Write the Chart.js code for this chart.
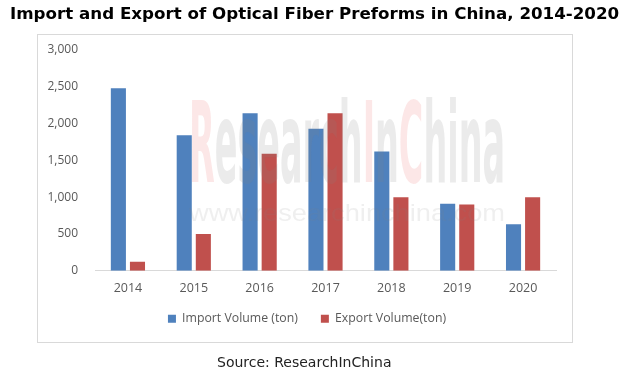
<!DOCTYPE html>
<html>
<head>
<meta charset="utf-8">
<script src="https://cdn.jsdelivr.net/npm/chart.js@4/dist/chart.umd.min.js"></script>
<style>
  html, body { margin: 0; padding: 0; background: #fff; }
  #wrap { width: 632px; height: 385px; position: relative; }
</style>
</head>
<body>
<div id="wrap"><canvas id="fiberChart"></canvas></div>
<script>
// Data
const years = ['2014', '2015', '2016', '2017', '2018', '2019', '2020'];
const importVolume = [2480, 1840, 2140, 1930, 1620, 910, 630];
const exportVolume = [120, 500, 1590, 2140, 1000, 900, 1000];
const yTicks = [0, 500, 1000, 1500, 2000, 2500, 3000];

const titleText = 'Import and Export of Optical Fiber Preforms in China, 2014-2020';
const sourceText = 'Source: ResearchInChina';

// Frame, title, source line and watermark
const decorations = {
    id: 'decorations',
    afterLayout(chart) {
        // x labels are clipped to the scale box, let them run into the legend gap
        const xs = chart.scales.x;
        xs.bottom = xs.top + 40;
        // legend sits a bit right of the plot centre in the original
        chart.legend.left += 9;
        chart.legend.right += 9;
    },
    beforeDraw(chart) {
        const ctx = chart.ctx;
        ctx.save();
        ctx.fillStyle = '#fff';
        ctx.fillRect(0, 0, chart.width, chart.height);
        ctx.strokeStyle = '#d9d9d9';
        ctx.lineWidth = 1;
        ctx.strokeRect(37.5, 34.5, 535, 308);
        ctx.fillStyle = '#000';
        ctx.font = 'bold 16.7px "DejaVu Sans"';
        ctx.textBaseline = 'middle';
        ctx.textAlign = 'left';
        ctx.fillText(titleText, 10, 15);
        ctx.fillStyle = '#222';
        ctx.font = '14px "DejaVu Sans"';
        ctx.fillText(sourceText, 217, 363);
        ctx.restore();
    },
    afterDatasetsDraw(chart) {
        const ctx = chart.ctx;
        ctx.save();
        // big watermark
        const parts = [
            ['R', 'rgba(230,60,60,0.12)'],
            ['esearch', 'rgba(128,128,128,0.16)'],
            ['I', 'rgba(230,60,60,0.12)'],
            ['n', 'rgba(128,128,128,0.16)'],
            ['C', 'rgba(230,60,60,0.12)'],
            ['hina', 'rgba(128,128,128,0.16)']
        ];
        ctx.font = 'bold 112px "DejaVu Sans Condensed", "DejaVu Sans"';
        ctx.textBaseline = 'alphabetic';
        ctx.textAlign = 'left';
        const full = parts.map(p => p[0]).join('');
        const w = ctx.measureText(full).width;
        const sx = 316 / w;
        ctx.translate(189, 182);
        ctx.scale(sx, 1);
        let x = 0;
        parts.forEach(p => {
            ctx.fillStyle = p[1];
            ctx.fillText(p[0], x, 0);
            x += ctx.measureText(p[0]).width;
        });
        ctx.restore();

        ctx.save();
        ctx.font = '24px "Liberation Sans"';
        const url = 'www.researchinchina.com';
        const uw = ctx.measureText(url).width;
        ctx.translate(189, 214);
        ctx.scale(316 / uw, 1);
        ctx.fillStyle = 'rgba(128,128,128,0.13)';
        ctx.fillText(url, 0, 0);
        ctx.restore();
    }
};

const ctx = document.getElementById('fiberChart').getContext('2d');
const fiberChart = new Chart(ctx, {
    type: 'bar',
    data: {
        labels: years,
        datasets: [{
            label: 'Import Volume (ton)',
            data: importVolume,
            backgroundColor: '#4f81bd',
            barPercentage: 0.79,
            categoryPercentage: 0.58
        }, {
            label: 'Export Volume(ton)',
            data: exportVolume,
            backgroundColor: '#c0504d',
            barPercentage: 0.79,
            categoryPercentage: 0.58
        }]
    },
    options: {
        responsive: true,
        maintainAspectRatio: false,
        animation: false,
        layout: {
            padding: { top: 50, left: 40, right: 76, bottom: 50 }
        },
        scales: {
            y: {
                min: 0,
                max: 3000,
                afterFit: scale => { scale.width = 55; },
                afterBuildTicks: scale => { scale.ticks = yTicks.map(v => ({ value: v })); },
                grid: { display: false },
                border: { display: false },
                ticks: {
                    padding: 9,
                    color: '#595959',
                    font: { family: '"Open Sans"', size: 12 },
                    callback: v => v.toLocaleString('en-US')
                }
            },
            x: {
                afterFit: scale => { scale.height = 19; },
                grid: { display: false, drawTicks: false },
                border: { display: true, color: '#d9d9d9', width: 1 },
                ticks: {
                    padding: 10,
                    color: '#595959',
                    font: { family: '"Open Sans"', size: 12.5 }
                }
            }
        },
        plugins: {
            legend: {
                position: 'bottom',
                labels: {
                    boxWidth: 8,
                    boxHeight: 8,
                    padding: 23,
                    color: '#595959',
                    font: { family: '"Open Sans"', size: 12.3 }
                }
            },
            tooltip: { enabled: false }
        }
    },
    plugins: [decorations]
});
</script>
</body>
</html>
